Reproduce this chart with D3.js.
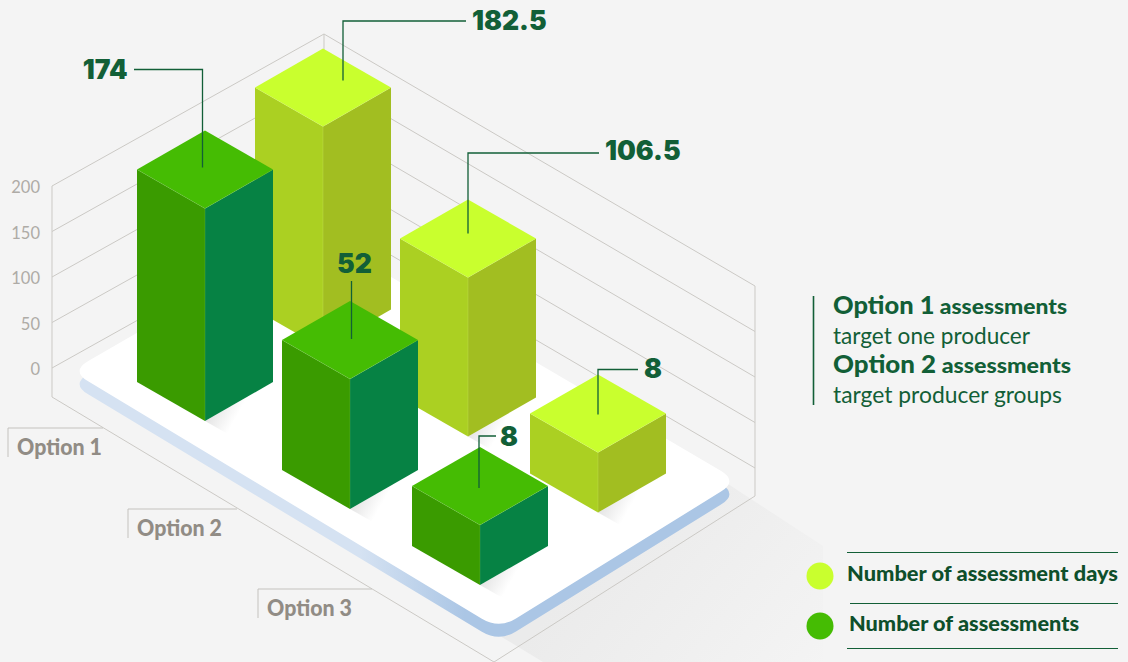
<!DOCTYPE html>
<html><head><meta charset="utf-8">
<style>
html,body{margin:0;padding:0;background:#f4f4f4;overflow:hidden}
svg{display:block}
</style>
<script src="https://cdnjs.cloudflare.com/ajax/libs/d3/7.8.5/d3.min.js"></script>
</head><body><svg id="c" width="1128" height="662"></svg>
<script>
const categories = ["Option 1", "Option 2", "Option 3"];
const seriesNames = ["Number of assessment days", "Number of assessments"];
const assessmentDays = [182.5, 106.5, 8];
const assessments = [174, 52, 8];
const valueLabels = [["182.5", "106.5", "8"], ["174", "52", "8"]];
const yTicks = [0, 50, 100, 150, 200];
const noteLines = [["Option 1", " assessments"], ["target one producer"], ["Option 2", " assessments"], ["target producer groups"]];

const svg = d3.select("#c");
const defs = svg.append("defs");
const INK = "#125f37";

// scales: the bar heights in the source are not to axis scale, so a piecewise scale reproduces them
const y = d3.scaleLinear().domain([0, 200]).range([368, 186]);
const hScale = d3.scaleLinear().domain([8, 52, 106.5, 174, 182.5]).range([60, 130, 159, 212.5, 222]);
const fx = d3.scaleLinear().domain([0, 1, 2]).range([205, 350, 480]);
const fy = d3.scaleLinear().domain([0, 1, 2]).range([421, 509, 585]);
const sx = d3.scaleOrdinal(seriesNames, [118, 0]);
const sy = d3.scaleOrdinal(seriesNames, [-72.5, 0]);
const color = d3.scaleOrdinal(seriesNames, [
  {top: "#c9ff2e", left: "#abd022", right: "#a2be21", edge: "#d7ef7a"},
  {top: "#45bc03", left: "#3a9b00", right: "#068244", edge: "#7cc95a"}
]);
const HW = 68, HD = 39;
const poly = pts => "M" + pts.map(p => p.join(",")).join("L") + "Z";

const bars = [];
[[seriesNames[0], assessmentDays], [seriesNames[1], assessments]].forEach(([s, vals], si) =>
  vals.forEach((v, i) => bars.push({s, si, i, v, label: valueLabels[si][i],
    x: fx(i) + sx(s), y: fy(i) + sy(s), h: hScale(v)})));

// ground shadow
const gs = defs.append("linearGradient").attr("id", "gs").attr("gradientUnits", "userSpaceOnUse")
  .attr("x1", 610).attr("y1", 540).attr("x2", 800).attr("y2", 700);
gs.append("stop").attr("offset", 0).attr("stop-color", "#ebebeb");
gs.append("stop").attr("offset", 1).attr("stop-color", "#f4f4f4");
svg.append("path").attr("fill", "url(#gs)")
  .attr("d", poly([[725, 482], [823, 546], [823, 662], [543, 662], [490, 630]]));

// walls
const wall = svg.append("g").attr("fill", "none").attr("stroke", "#cbc9c5").attr("stroke-width", 1);
const BACKX = 324, LX = 52, RX = 755, BACKDY = -152, RIGHTDY = 100;
wall.selectAll(".g").data(yTicks).join("polyline").attr("class", "g")
  .attr("points", d => `${LX},${y(d)} ${BACKX},${y(d) + BACKDY} ${RX},${y(d) + RIGHTDY}`);
wall.append("path").attr("d", `M${LX},${y(200)}V397L494,662L${RX},496V${y(200) + RIGHTDY}`);
wall.append("path").attr("d", `M${BACKX},${y(200) + BACKDY}V${y(0) + BACKDY}`);

// y axis labels
const axis = d3.axisLeft(y).tickValues(yTicks).tickSize(0).tickPadding(0);
const gAxis = svg.append("g").attr("transform", "translate(40,0)").call(axis);
gAxis.select(".domain").remove();
gAxis.selectAll("text").attr("font-family", "Lato").attr("font-weight", 400).attr("font-size", 16.5)
  .attr("fill", "#aeaba6").attr("dy", 6.5);

// category labels
const catX = d3.scaleOrdinal(categories, [8, 128, 258]);
const catY = d3.scaleOrdinal(categories, [428, 509, 589]);
const catEnd = d3.scaleOrdinal(categories, [103, 237, 372]);
const cat = svg.append("g").selectAll("g").data(categories).join("g");
cat.append("path").attr("fill", "none").attr("stroke", "#c4c2be").attr("stroke-width", 1)
  .attr("d", d => `M${catEnd(d)},${catY(d)}H${catX(d)}V${catY(d) + 29}`);
cat.append("text").attr("x", d => catX(d) + 9).attr("y", d => catY(d) + 27)
  .attr("font-family", "Lato").attr("font-weight", 900).attr("font-size", 22.5).attr("fill", "#918c85")
  .attr("textLength", 85).attr("lengthAdjust", "spacingAndGlyphs").text(d => d);

// platform
function rounded(c, r) {
  const n = c.length; let d = "";
  for (let k = 0; k < n; k++) {
    const p = c[k], a = c[(k + n - 1) % n], b = c[(k + 1) % n];
    const la = Math.hypot(a[0] - p[0], a[1] - p[1]), lb = Math.hypot(b[0] - p[0], b[1] - p[1]);
    const s = [p[0] + (a[0] - p[0]) * r / la, p[1] + (a[1] - p[1]) * r / la];
    const e = [p[0] + (b[0] - p[0]) * r / lb, p[1] + (b[1] - p[1]) * r / lb];
    d += (k ? "L" : "M") + s.join(",") + "Q" + p.join(",") + " " + e.join(",");
  }
  return d + "Z";
}
const plate = [[313, 231], [738, 481], [499, 629], [71, 371]];
const pg = defs.append("linearGradient").attr("id", "pg").attr("gradientUnits", "userSpaceOnUse")
  .attr("x1", 360).attr("y1", 0).attr("x2", 465).attr("y2", 0);
pg.append("stop").attr("offset", 0).attr("stop-color", "#d5e2f2");
pg.append("stop").attr("offset", 1).attr("stop-color", "#abc6e5");
svg.append("path").attr("fill", "url(#pg)").attr("transform", "translate(0,13)").attr("d", rounded(plate, 20));
svg.append("path").attr("fill", "#ffffff").attr("d", rounded(plate, 20));

// bar shadows
const SDX = 22, SDY = 12.5;
const sh = defs.selectAll(".sh").data(bars).join("linearGradient").attr("class", "sh")
  .attr("id", (d, i) => "sh" + i).attr("gradientUnits", "userSpaceOnUse")
  .attr("x1", d => d.x).attr("y1", d => d.y).attr("x2", d => d.x + SDX).attr("y2", d => d.y + SDY);
sh.append("stop").attr("offset", 0).attr("stop-color", "#e4e4e4");
sh.append("stop").attr("offset", 1).attr("stop-color", "#ffffff");
svg.append("g").selectAll("path").data(bars).join("path")
  .attr("fill", (d, i) => `url(#sh${i})`)
  .attr("d", d => poly([[d.x, d.y], [d.x + HW, d.y - HD], [d.x + HW + SDX, d.y - HD + SDY], [d.x + SDX, d.y + SDY]]));

// bars
const bar = svg.append("g").selectAll("g").data(bars).join("g");
bar.append("path").attr("fill", d => color(d.s).left)
  .attr("d", d => poly([[d.x - HW, d.y - HD], [d.x, d.y], [d.x, d.y - d.h], [d.x - HW, d.y - d.h - HD]]));
bar.append("path").attr("fill", d => color(d.s).right)
  .attr("d", d => poly([[d.x + HW, d.y - HD], [d.x, d.y], [d.x, d.y - d.h], [d.x + HW, d.y - d.h - HD]]));
bar.append("path").attr("fill", d => color(d.s).top)
  .attr("d", d => poly([[d.x, d.y - d.h], [d.x + HW, d.y - d.h - HD], [d.x, d.y - d.h - 2 * HD], [d.x - HW, d.y - d.h - HD]]));
bar.append("path").attr("fill", "none").attr("stroke", d => color(d.s).edge).attr("stroke-width", .5).attr("opacity", .5)
  .attr("d", d => `M${d.x - HW},${d.y - d.h - HD}L${d.x},${d.y - d.h}L${d.x + HW},${d.y - d.h - HD}M${d.x},${d.y - d.h}V${d.y}`);

// value call-outs: leader offsets from each bar's top-back corner, keyed by series then category
const callouts = [
  [{dx: 20, end: 32, rise: 27.5, run: 123, tx: 129, ty: 8.5, anchor: "start"},
   {dx: 0, end: 34, rise: 46.5, run: 131, tx: 137, ty: 6.5, anchor: "start"},
   {dx: 0, end: 40, rise: 5, run: 40, tx: 46, ty: 8.5, anchor: "start"}],
  [{dx: -2.5, end: 37, rise: 61, run: -68.5, tx: -75, ty: 9.5, anchor: "end"},
   {dx: 1.5, end: 38, rise: 20, run: 0, tx: 3, ty: -8, anchor: "middle"},
   {dx: -1, end: 41, rise: 11, run: 17, tx: 21, ty: 10, anchor: "start"}]
];
const call = svg.append("g").selectAll("g").data(bars).join("g")
  .attr("transform", d => `translate(${d.x + callouts[d.si][d.i].dx},${d.y - d.h - 2 * HD})`);
call.append("path").attr("fill", "none").attr("stroke", INK).attr("stroke-width", 1.3)
  .attr("d", d => { const c = callouts[d.si][d.i]; return `M${c.run},${-c.rise}H0V${c.end}`; });
call.append("text").attr("x", d => callouts[d.si][d.i].tx)
  .attr("y", d => -callouts[d.si][d.i].rise + callouts[d.si][d.i].ty)
  .attr("text-anchor", d => callouts[d.si][d.i].anchor)
  .attr("font-family", "Inter").attr("font-weight", 900).attr("font-size", 26.5).attr("fill", INK)
  .text(d => d.label);

// note block
svg.append("line").attr("x1", 813.5).attr("x2", 813.5).attr("y1", 296).attr("y2", 405).attr("stroke", INK).attr("stroke-width", 1.6);
const noteY = d3.scalePoint().domain(d3.range(noteLines.length)).range([314, 403]);
const noteLen = d3.scaleOrdinal(d3.range(noteLines.length), [234, 197, 238, 229]);
const note = svg.append("g").selectAll("text").data(noteLines).join("text")
  .attr("x", 833).attr("y", (d, i) => noteY(i)).attr("fill", INK).attr("font-family", "Lato")
  .attr("textLength", (d, i) => noteLen(i)).attr("lengthAdjust", "spacingAndGlyphs");
note.filter(d => d.length === 1).attr("font-weight", 400).attr("font-size", 24).text(d => d[0]);
note.filter(d => d.length === 2).each(function (d) {
  const t = d3.select(this);
  t.append("tspan").attr("font-weight", 900).attr("font-size", 24).text(d[0]);
  t.append("tspan").attr("font-weight", 900).attr("font-size", 21.5).text(d[1]);
});

// legend
const lgY = d3.scaleOrdinal(seriesNames, [576, 626]);
const lgX = d3.scaleOrdinal(seriesNames, [847, 849]);
const lgLen = d3.scaleOrdinal(seriesNames, [271, 230]);
const rules = [[847, 552.5], [850, 603.5], [847, 648.5]];
svg.append("g").selectAll("line").data(rules).join("line")
  .attr("x1", d => d[0]).attr("x2", 1118).attr("y1", d => d[1]).attr("y2", d => d[1])
  .attr("stroke", INK).attr("stroke-width", 1.2);
const lg = svg.append("g").selectAll("g").data(seriesNames).join("g");
lg.append("circle").attr("cx", 820).attr("cy", d => lgY(d)).attr("r", 13.5).attr("fill", d => color(d).top);
lg.append("text").attr("x", d => lgX(d)).attr("y", d => lgY(d) + 5).attr("font-family", "Lato").attr("font-weight", 900)
  .attr("font-size", 21).attr("fill", "#0e4f2b").attr("textLength", d => lgLen(d)).attr("lengthAdjust", "spacingAndGlyphs").text(d => d);
</script></body></html>
